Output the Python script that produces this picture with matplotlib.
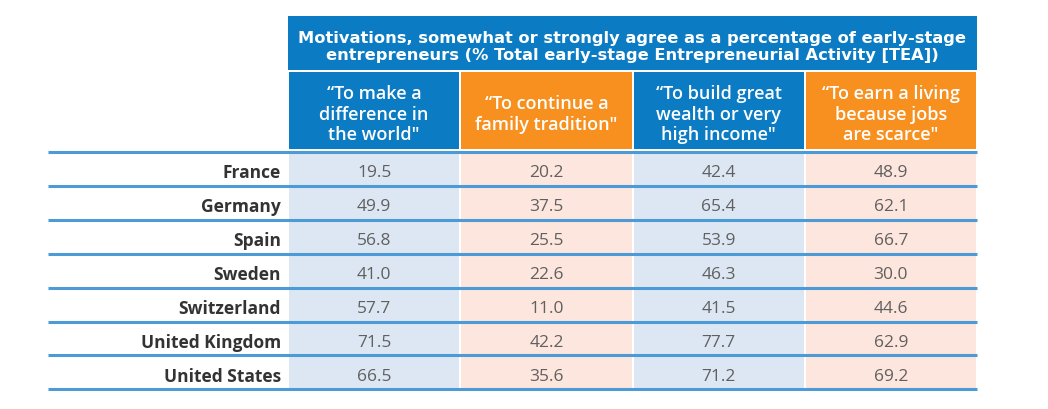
import matplotlib.pyplot as plt
from matplotlib.patches import Rectangle

plt.rcParams['font.family'] = ['Open Sans', 'DejaVu Sans']

title = ('Motivations, somewhat or strongly agree as a percentage of early-stage\n'
         'entrepreneurs (% Total early-stage Entrepreneurial Activity [TEA])')
columns = ['\u201cTo make a\ndifference in\nthe world"',
           '\u201cTo continue a\nfamily tradition"',
           '\u201cTo build great\nwealth or very\nhigh income"',
           '\u201cTo earn a living\nbecause jobs\nare scarce"']
countries = ['France', 'Germany', 'Spain', 'Sweden', 'Switzerland',
             'United Kingdom', 'United States']
difference = [19.5, 49.9, 56.8, 41.0, 57.7, 71.5, 66.5]
tradition = [20.2, 37.5, 25.5, 22.6, 11.0, 42.2, 35.6]
wealth = [42.4, 65.4, 53.9, 46.3, 41.5, 77.7, 71.2]
scarce = [48.9, 62.1, 66.7, 30.0, 44.6, 62.9, 69.2]
values = [difference, tradition, wealth, scarce]

BLUE = '#0B7CC3'
ORANGE = '#F7901E'
LIGHT_BLUE = '#DCE7F3'
LIGHT_ORANGE = '#FDE6DD'
LINE = '#4D9BD6'

fig = plt.figure(figsize=(10.48, 4.10), dpi=100)
ax = fig.add_axes([0, 0, 1, 1])
ax.set_xlim(0, 1048)
ax.set_ylim(410, 0)
ax.axis('off')

# layout in pixels
x0, x1 = 288, 977
col_w = (x1 - x0) / len(columns)
title_top, title_bot = 17, 71
sub_top, sub_bot = 73, 150
row_top = 153
row_h = 33.9
line_left = 48

# title box
ax.add_patch(Rectangle((x0, title_top), x1 - x0, title_bot - title_top,
                       color=BLUE, lw=0))
ax.text((x0 + x1) / 2, (title_top + title_bot) / 2 + 3, title, ha='center',
        va='center', color='white', fontsize=11.7, fontweight='bold',
        family='DejaVu Sans', linespacing=1.15)

for j, (lab, col) in enumerate(zip(columns, values)):
    fill = BLUE if j % 2 == 0 else ORANGE
    light = LIGHT_BLUE if j % 2 == 0 else LIGHT_ORANGE
    cx = x0 + j * col_w
    ax.add_patch(Rectangle((cx + 1, sub_top), col_w - 2, sub_bot - sub_top,
                           color=fill, lw=0))
    ax.text(cx + col_w / 2, (sub_top + sub_bot) / 2 + 3, lab, ha='center',
            va='center', color='white', fontsize=13, fontweight='semibold',
            linespacing=1.2)
    ax.add_patch(Rectangle((cx + 1, row_top), col_w - 2, row_h * len(countries),
                           color=light, lw=0))
    for i, v in enumerate(col):
        ax.text(cx + col_w / 2, row_top + row_h * (i + 0.6), f'{v:.1f}',
                ha='center', va='center', color='#606060', fontsize=12.5)

for i, c in enumerate(countries):
    ax.text(281, row_top + row_h * (i + 0.6), c, ha='right', va='center',
            color='#333333', fontsize=12.5, fontweight='bold')

for i in range(len(countries) + 1):
    y = row_top + row_h * i
    ax.plot([line_left, x1], [y, y], color=LINE, lw=2.2, solid_capstyle='butt')

fig.savefig('out.png', dpi=100)
